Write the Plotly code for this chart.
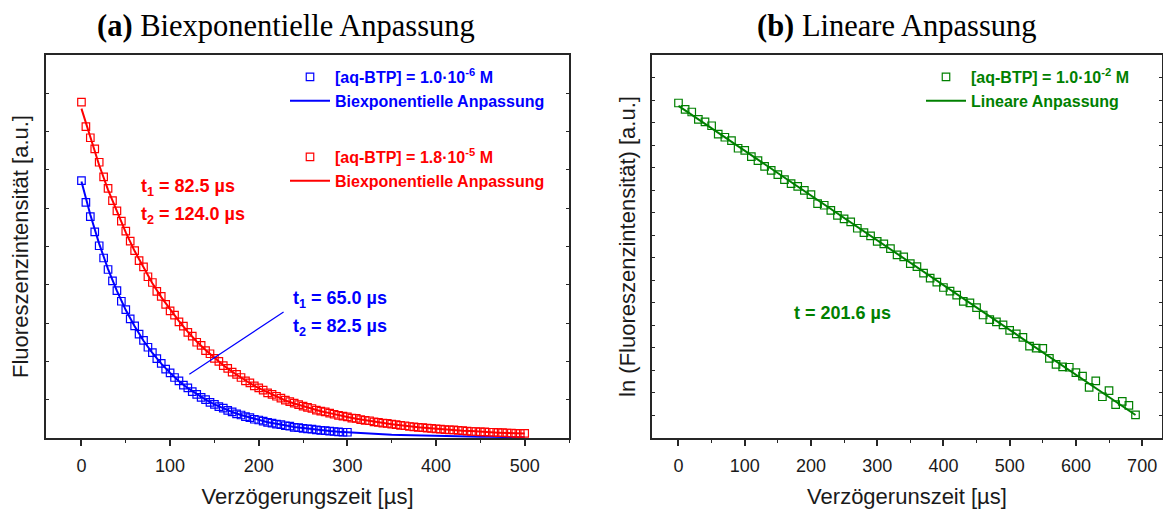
import plotly.graph_objects as go

# ---------------- data ----------------
t_red = [0, 5, 10, 15, 20, 25, 30, 35, 40, 45, 50, 55, 60, 65, 70, 75, 80, 85, 90, 95,
         100, 105, 110, 115, 120, 125, 130, 135, 140, 145, 150, 155, 160, 165, 170, 175, 180, 185, 190, 195,
         200, 205, 210, 215, 220, 225, 230, 235, 240, 245, 250, 255, 260, 265, 270, 275, 280, 285, 290, 295,
         300, 305, 310, 315, 320, 325, 330, 335, 340, 345, 350, 355, 360, 365, 370, 375, 380, 385, 390, 395,
         400, 405, 410, 415, 420, 425, 430, 435, 440, 445, 450, 455, 460, 465, 470, 475, 480, 485, 490, 495, 500]
red_data = [8.77, 8.13, 7.84, 7.55, 7.20, 6.82, 6.52, 6.20, 5.93, 5.66, 5.40, 5.14, 4.89, 4.63, 4.47, 4.21, 4.06, 3.83, 3.70, 3.49,
            3.32, 3.21, 3.03, 2.92, 2.76, 2.66, 2.50, 2.42, 2.28, 2.20, 2.08, 2.00, 1.89, 1.82, 1.72, 1.66, 1.58, 1.49, 1.44, 1.36,
            1.31, 1.25, 1.18, 1.14, 1.09, 1.04, 0.99, 0.95, 0.91, 0.87, 0.83, 0.80, 0.77, 0.73, 0.70, 0.68, 0.65, 0.62, 0.59, 0.57,
            0.55, 0.52, 0.51, 0.48, 0.46, 0.45, 0.42, 0.41, 0.39, 0.38, 0.36, 0.35, 0.33, 0.32, 0.30, 0.29, 0.28, 0.27, 0.26, 0.25,
            0.24, 0.23, 0.22, 0.21, 0.21, 0.20, 0.19, 0.18, 0.17, 0.17, 0.16, 0.16, 0.15, 0.15, 0.14, 0.14, 0.13, 0.13, 0.12, 0.12, 0.12]

t_blue = [0, 5, 10, 15, 20, 25, 30, 35, 40, 45, 50, 55, 60, 65, 70, 75, 80, 85, 90, 95,
          100, 105, 110, 115, 120, 125, 130, 135, 140, 145, 150, 155, 160, 165, 170, 175, 180, 185, 190, 195,
          200, 205, 210, 215, 220, 225, 230, 235, 240, 245, 250, 255, 260, 265, 270, 275, 280, 285, 290, 295, 300]
blue_data = [6.72, 6.15, 5.78, 5.38, 5.02, 4.70, 4.40, 4.10, 3.85, 3.57, 3.35, 3.11, 2.93, 2.71, 2.55, 2.37, 2.23, 2.07, 1.95, 1.80,
             1.70, 1.58, 1.49, 1.38, 1.31, 1.21, 1.14, 1.06, 1.00, 0.93, 0.88, 0.82, 0.78, 0.72, 0.68, 0.63, 0.60, 0.56, 0.53, 0.49,
             0.47, 0.44, 0.41, 0.39, 0.36, 0.35, 0.32, 0.31, 0.28, 0.27, 0.25, 0.24, 0.23, 0.21, 0.20, 0.19, 0.18, 0.17, 0.16, 0.15, 0.15]

t_fit = [0, 10, 20, 30, 40, 50, 60, 70, 80, 90, 100, 110, 120, 130, 140, 150, 160, 170, 180, 190,
         200, 210, 220, 230, 240, 250, 260, 270, 280, 290, 300, 310, 320, 330, 340, 350, 360, 370, 380, 390,
         400, 410, 420, 430, 440, 450, 460, 470, 480, 490, 500]
red_fit = [8.60, 7.83, 7.12, 6.48, 5.90, 5.37, 4.88, 4.44, 4.04, 3.68, 3.35, 3.05, 2.77, 2.52, 2.30, 2.09, 1.90, 1.73, 1.57, 1.43,
           1.30, 1.19, 1.08, 0.98, 0.90, 0.83, 0.77, 0.70, 0.65, 0.59, 0.55, 0.50, 0.46, 0.42, 0.39, 0.36, 0.33, 0.30, 0.28, 0.26,
           0.24, 0.22, 0.21, 0.19, 0.18, 0.16, 0.15, 0.14, 0.13, 0.12, 0.12]
blue_fit = [6.70, 5.83, 5.07, 4.41, 3.84, 3.34, 2.92, 2.54, 2.22, 1.94, 1.70, 1.48, 1.30, 1.14, 1.00, 0.88, 0.77, 0.68, 0.60, 0.53,
            0.47, 0.41, 0.37, 0.32, 0.29, 0.26, 0.23, 0.20, 0.18, 0.16, 0.145, 0.13, 0.117, 0.105, 0.095, 0.085, 0.078, 0.071, 0.064, 0.057,
            0.051, 0.047, 0.043, 0.040, 0.037, 0.032, 0.030, 0.027, 0.025, 0.023, 0.021]

t_green = [0, 10, 20, 30, 40, 50, 60, 70, 80, 90, 100, 110, 120, 130, 140, 150, 160, 170, 180, 190,
           200, 210, 220, 230, 240, 250, 260, 270, 280, 290, 300, 310, 320, 330, 340, 350, 360, 370, 380, 390,
           400, 410, 420, 430, 440, 450, 460, 470, 480, 490, 500, 510, 520, 530, 540, 550, 560, 570, 580, 590,
           600, 610, 620, 630, 640, 650, 660, 670, 680, 690]
green_data = [14.87, 14.59, 14.47, 14.14, 14.03, 13.86, 13.49, 13.35, 13.20, 12.86, 12.77, 12.49, 12.31, 12.06, 11.88, 11.69, 11.47, 11.29, 11.17, 10.99,
              10.80, 10.40, 10.33, 10.10, 9.88, 9.73, 9.59, 9.31, 9.12, 8.97, 8.73, 8.62, 8.41, 8.13, 8.04, 7.74, 7.61, 7.32, 7.10, 6.92,
              6.68, 6.52, 6.34, 6.06, 6.00, 5.79, 5.46, 5.25, 5.15, 5.02, 4.78, 4.62, 4.47, 4.08, 3.99, 3.98, 3.53, 3.27, 3.16, 3.14,
              2.90, 2.75, 2.25, 2.54, 1.83, 2.10, 1.48, 1.63, 1.45, 1.03]
t_green_fit = [0, 690]
green_fit = [14.74, 1.02]

x_ticks_a = [0, 100, 200, 300, 400, 500]
x_ticks_b = [0, 100, 200, 300, 400, 500, 600, 700]

BLUE = "#0000FF"
RED = "#FF0000"
GREEN = "#008000"
AX = "#262626"
SANS = "Liberation Sans"
SERIF = "Liberation Serif"

# the page body adds an 8 px offset; figure is sized so it ends at the window edge
OFF = 8
W, H = 1171 - OFF, 513 - OFF
def px_x(p):
    return (p - OFF) / W
def px_y(p):
    return 1 - (p - OFF) / H

fig = go.Figure()

mk = dict(symbol="square-open", size=7.5)
fig.add_trace(go.Scatter(x=t_blue, y=blue_data, mode="markers", xaxis="x", yaxis="y",
                         marker=dict(color=BLUE, line=dict(width=1.2, color=BLUE), **mk),
                         name="<b>[aq-BTP] = 1.0·10<sup>-6</sup> M</b>", legend="legend"))
fig.add_trace(go.Scatter(x=t_fit, y=blue_fit, mode="lines", xaxis="x", yaxis="y",
                         line=dict(color=BLUE, width=2),
                         name="<b>Biexponentielle Anpassung</b>", legend="legend"))
fig.add_trace(go.Scatter(x=t_red, y=red_data, mode="markers", xaxis="x", yaxis="y",
                         marker=dict(color=RED, line=dict(width=1.2, color=RED), **mk),
                         name="<b>[aq-BTP] = 1.8·10<sup>-5</sup> M</b>", legend="legend2"))
fig.add_trace(go.Scatter(x=t_fit, y=red_fit, mode="lines", xaxis="x", yaxis="y",
                         line=dict(color=RED, width=2),
                         name="<b>Biexponentielle Anpassung</b>", legend="legend2"))
fig.add_trace(go.Scatter(x=t_green, y=green_data, mode="markers", xaxis="x2", yaxis="y2",
                         marker=dict(color=GREEN, line=dict(width=1.2, color=GREEN), **mk),
                         name="<b>[aq-BTP] = 1.0·10<sup>-2</sup> M</b>", legend="legend3"))
fig.add_trace(go.Scatter(x=t_green_fit, y=green_fit, mode="lines", xaxis="x2", yaxis="y2",
                         line=dict(color=GREEN, width=2),
                         name="<b>Lineare Anpassung</b>", legend="legend3"))

dom_a = [px_x(46), px_x(569)]
dom_b = [px_x(652), px_x(1162)]
dom_y = [px_y(438), px_y(55)]

xcommon = dict(showgrid=False, zeroline=False, showline=True, linewidth=2, linecolor=AX, mirror=True,
               ticks="outside", ticklen=6, tickwidth=1.5, tickcolor=AX, ticklabelstandoff=4,
               minor=dict(ticks="outside", ticklen=3, tickwidth=1.2, tickcolor=AX, dtick=50, tick0=0, showgrid=False),
               tickfont=dict(family=SANS, size=18, color="#1a1a1a"), automargin=False)
ycommon = dict(showgrid=False, zeroline=False, showline=True, linewidth=2, linecolor=AX, mirror="ticks",
               ticks="inside", ticklen=3, tickwidth=1.2, tickcolor=AX, showticklabels=False, dtick=1, tick0=0,
               automargin=False)
topcommon = dict(side="top", showgrid=False, zeroline=False, showline=False, ticks="inside", ticklen=3,
                 tickwidth=1.2, tickcolor=AX, showticklabels=False, dtick=50, tick0=0, automargin=False)

leg = dict(xanchor="left", yanchor="top", bgcolor="rgba(0,0,0,0)", itemwidth=40, tracegroupgap=0)

fig.update_layout(
    width=W, height=H, margin=dict(l=0, r=0, t=0, b=0),
    paper_bgcolor="white", plot_bgcolor="white",
    font=dict(family=SANS, color="#1a1a1a"),
    xaxis=dict(domain=dom_a, anchor="y", range=[-40, 550], tickvals=x_ticks_a,
               title=dict(text="Verzögerungszeit [µs]", font=dict(size=22, family=SANS), standoff=14), **xcommon),
    yaxis=dict(domain=dom_y, anchor="x", range=[0, 10],
               title=dict(text="Fluoreszenzintensität [a.u.]", font=dict(size=22, family=SANS), standoff=14), **ycommon),
    xaxis3=dict(overlaying="x", anchor="y", range=[-40, 550], **topcommon),
    xaxis2=dict(domain=dom_b, anchor="y2", range=[-40, 730], tickvals=x_ticks_b,
                title=dict(text="Verzögerunszeit [µs]", font=dict(size=22, family=SANS), standoff=14), **xcommon),
    yaxis2=dict(domain=dom_y, anchor="x2", range=[0, 17],
                title=dict(text="ln (Fluoreszenzintensität) [a.u.]", font=dict(size=22, family=SANS), standoff=8), **ycommon),
    xaxis4=dict(overlaying="x2", anchor="y2", range=[-40, 730], **topcommon),
    legend=dict(x=px_x(285), y=px_y(60), font=dict(family=SANS, size=16, color=BLUE), **leg),
    legend2=dict(x=px_x(285), y=px_y(140), font=dict(family=SANS, size=16, color=RED), **leg),
    legend3=dict(x=px_x(921), y=px_y(60), font=dict(family=SANS, size=16, color=GREEN), **leg),
    showlegend=True,
)

annots = [
    dict(text="<b>(a)</b> Biexponentielle Anpassung", x=px_x(286), y=px_y(26), font=dict(family=SERIF, size=30.5, color="black")),
    dict(text="<b>(b)</b> Lineare Anpassung", x=px_x(897), y=px_y(26), font=dict(family=SERIF, size=30.5, color="black")),
    dict(text="<b>t<sub>1</sub> = 82.5 µs</b>", x=px_x(140), y=px_y(187), xanchor="left", font=dict(size=18, color=RED)),
    dict(text="<b>t<sub>2</sub> = 124.0 µs</b>", x=px_x(140), y=px_y(216), xanchor="left", font=dict(size=18, color=RED)),
    dict(text="<b>t<sub>1</sub> = 65.0 µs</b>", x=px_x(292), y=px_y(299), xanchor="left", font=dict(size=18, color=BLUE)),
    dict(text="<b>t<sub>2</sub> = 82.5 µs</b>", x=px_x(292), y=px_y(327), xanchor="left", font=dict(size=18, color=BLUE)),
    dict(text="<b>t = 201.6 µs</b>", x=px_x(793), y=px_y(313), xanchor="left", font=dict(size=18, color=GREEN)),
]
for a in annots:
    fig.add_annotation(xref="paper", yref="paper", showarrow=False, yanchor="middle", borderpad=0,
                       **({"xanchor": "center"} | a))

# pointer line in panel (a)
fig.add_annotation(xref="x", yref="y", x=228, y=3.29, axref="x", ayref="y", ax=120, ay=1.64,
                   text="", showarrow=True, arrowhead=0, arrowwidth=1.2, arrowcolor=BLUE)

fig.write_html("out.html")
